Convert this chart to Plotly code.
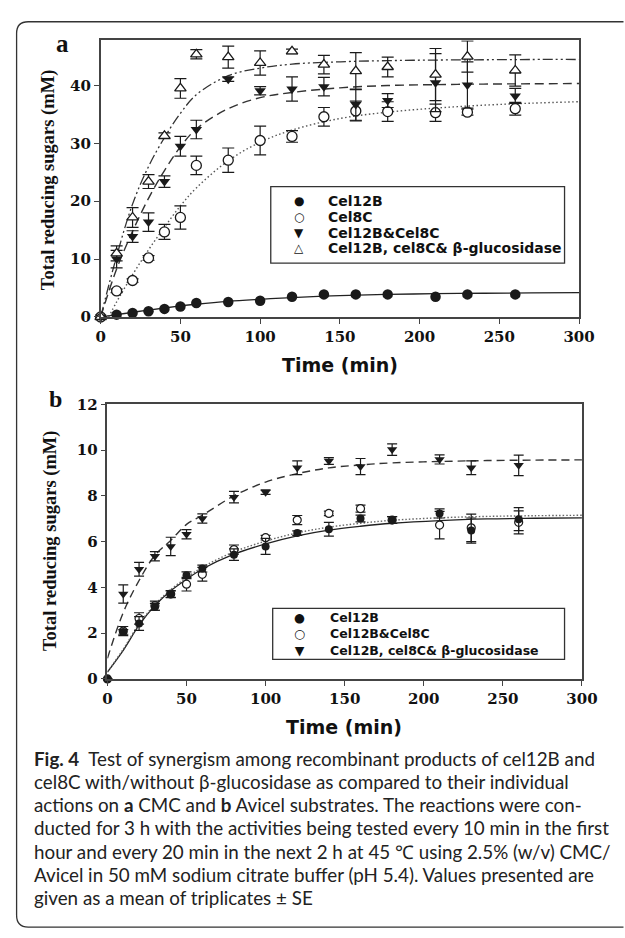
import plotly.graph_objects as go

W, H = 625, 938

# ---------------- Panel a (CMC) ----------------
time_a = [0, 10, 20, 30, 40, 50, 60, 80, 100, 120, 140, 160, 180, 210, 230, 260]
time_a_cel12b = [10, 20, 30, 40, 50, 60, 80, 100, 120, 140, 160, 180, 210, 230, 260]
cel12b_a = [0.4, 0.7, 1.0, 1.4, 1.8, 2.4, 2.6, 2.8, 3.5, 3.9, 3.9, 3.9, 3.5, 3.9, 3.9]
cel8c_a = [0, 4.5, 6.3, 10.2, 14.7, 17.2, 26.2, 27.1, 30.5, 31.2, 34.6, 35.6, 35.5, 35.3, 35.4, 36.0]
cel8c_err_a = [0, 0.3, 0.3, 0.4, 1.3, 2.0, 1.6, 2.1, 2.5, 1.0, 1.6, 1.7, 1.7, 1.5, 0.5, 1.1]
combo_a = [0, 10.0, 13.9, 16.4, 23.4, 29.5, 32.4, 41.1, 39.1, 39.4, 39.8, 36.7, 37.4, 40.5, 40.1, 38.2]
combo_err_a = [0, 1.5, 1.0, 1.6, 1.0, 1.7, 1.6, 0.4, 0.7, 2.1, 1.6, 2.7, 1.2, 5.0, 4.0, 1.3]
gluc_a = [0, 11.0, 17.2, 23.4, 31.3, 39.5, 45.4, 44.9, 43.9, 45.9, 43.6, 42.5, 43.2, 41.9, 45.0, 42.6]
gluc_err_a = [0, 1.3, 1.7, 1.2, 0.5, 1.7, 0.8, 1.9, 2.1, 0.4, 1.6, 3.2, 1.7, 4.5, 2.7, 2.7]

# fitted curves
fit_t_a = [0, 10, 20, 30, 40, 50, 60, 80, 100, 120, 150, 180, 210, 240, 270, 300]
fit_cel12b_a = [0, 0.4, 0.8, 1.2, 1.55, 1.9, 2.2, 2.7, 3.05, 3.35, 3.7, 3.9, 4.02, 4.1, 4.15, 4.2]
fit_combo_a = [0, 8.3, 14.8, 20.5, 25.3, 29.4, 32.5, 36.0, 37.9, 38.8, 39.6, 40.0, 40.15, 40.25, 40.3, 40.35]
fit_gluc_a = [0, 10.5, 19.5, 26.0, 31.0, 35.2, 38.4, 41.7, 43.0, 43.7, 44.1, 44.3, 44.4, 44.45, 44.5, 44.5]
fit_t_a_cel8c = [5, 10, 20, 30, 40, 50, 60, 80, 100, 120, 150, 180, 210, 240, 270, 300]
fit_cel8c_a = [0, 2.6, 7.3, 11.6, 15.5, 19.2, 22.3, 27.0, 30.2, 32.3, 34.3, 35.4, 36.1, 36.6, 36.95, 37.2]

# ---------------- Panel b (Avicel) ----------------
time_b = [0, 10, 20, 30, 40, 50, 60, 80, 100, 120, 140, 160, 180, 210, 230, 260]
time_b_gluc = [10, 20, 30, 40, 50, 60, 80, 100, 120, 140, 160, 180, 210, 230, 260]
cel12b_b = [0, 2.05, 2.42, 3.15, 3.7, 4.53, 4.82, 5.43, 5.79, 6.37, 6.54, 7.01, 6.94, 7.23, 6.48, 6.98]
cel12b_err_b = [0, 0.1, 0.3, 0.15, 0.15, 0.15, 0.15, 0.25, 0.35, 0.1, 0.3, 0.15, 0.15, 0.2, 0.55, 0.5]
combo_b = [0, 2.09, 2.64, 3.2, 3.71, 4.14, 4.57, 5.65, 6.17, 6.94, 7.23, 7.44, 6.94, 6.72, 6.6, 6.84]
combo_err_b = [0, 0.2, 0.25, 0.2, 0.15, 0.3, 0.3, 0.2, 0.1, 0.2, 0.1, 0.15, 0.15, 0.6, 0.6, 0.5]
gluc_b = [3.71, 4.79, 5.36, 5.79, 6.32, 7.01, 7.94, 8.16, 9.23, 9.52, 9.28, 10.02, 9.59, 9.23, 9.33]
gluc_err_b = [0.4, 0.3, 0.2, 0.4, 0.2, 0.2, 0.25, 0.1, 0.3, 0.15, 0.35, 0.25, 0.2, 0.3, 0.45]

fit_t_b = [0, 10, 20, 30, 40, 50, 60, 80, 100, 120, 140, 160, 180, 210, 240, 270, 300]
fit_cel12b_b = [0.3, 1.25, 2.35, 3.2, 3.85, 4.35, 4.8, 5.45, 5.9, 6.25, 6.5, 6.67, 6.8, 6.92, 6.99, 7.02, 7.04]
fit_combo_b = [0.3, 1.3, 2.4, 3.25, 3.9, 4.42, 4.88, 5.55, 6.02, 6.38, 6.63, 6.8, 6.93, 7.04, 7.1, 7.13, 7.15]
fit_gluc_b = [0.9, 2.9, 4.3, 5.4, 6.05, 6.75, 7.15, 8.0, 8.6, 8.97, 9.22, 9.35, 9.44, 9.5, 9.54, 9.56, 9.57]

x_ticks = [0, 50, 100, 150, 200, 250, 300]
y_ticks_a = [0, 10, 20, 30, 40]
y_ticks_b = [0, 2, 4, 6, 8, 10, 12]

legend_a = ["Cel12B", "Cel8C", "Cel12B&Cel8C", "Cel12B, cel8C& \u03b2-glucosidase"]
legend_b = ["Cel12B", "Cel12B&Cel8C", "Cel12B, cel8C& \u03b2-glucosidase"]

caption_lines = [
    "<b>Fig. 4</b>  Test of synergism among recombinant products of cel12B and",
    "cel8C with/without \u03b2-glucosidase as compared to their individual",
    "actions on <b>a</b> CMC and <b>b</b> Avicel substrates. The reactions were con-",
    "ducted for 3 h with the activities being tested every 10 min in the first",
    "hour and every 20 min in the next 2 h at 45 \u2103 using 2.5% (w/v) CMC/",
    "Avicel in 50 mM sodium citrate buffer (pH 5.4). Values presented are",
    "given as a mean of triplicates \u00b1 SE",
]

fig = go.Figure()

INK = "#1a1a1a"


def err(arr, w=5):
    return dict(type="data", array=arr, visible=True, color=INK, thickness=1.2, width=w)


def px_x(x):
    return x / W


def px_y(y):
    return 1 - y / H


# ---- panel a curves ----
fig.add_trace(go.Scatter(x=fit_t_a, y=fit_cel12b_a, mode="lines", line=dict(color="#222", width=1.3, shape="spline"),
                         xaxis="x", yaxis="y", showlegend=False, hoverinfo="skip"))
fig.add_trace(go.Scatter(x=fit_t_a_cel8c, y=fit_cel8c_a, mode="lines",
                         line=dict(color="#555", width=1.4, dash="1.5px,2.5px", shape="spline"),
                         xaxis="x", yaxis="y", showlegend=False, hoverinfo="skip"))
fig.add_trace(go.Scatter(x=fit_t_a, y=fit_combo_a, mode="lines",
                         line=dict(color="#333", width=1.4, dash="9px,5px", shape="spline"),
                         xaxis="x", yaxis="y", showlegend=False, hoverinfo="skip"))
fig.add_trace(go.Scatter(x=fit_t_a, y=fit_gluc_a, mode="lines",
                         line=dict(color="#333", width=1.3, dash="10px,3px,2px,3px,2px,3px", shape="spline"),
                         xaxis="x", yaxis="y", showlegend=False, hoverinfo="skip"))

# ---- panel a markers ----
fig.add_trace(go.Scatter(x=time_a_cel12b, y=cel12b_a, mode="markers", name=legend_a[0],
                         marker=dict(symbol="circle", size=10.5, color=INK, line=dict(width=0)),
                         xaxis="x", yaxis="y", showlegend=False, cliponaxis=False))
fig.add_trace(go.Scatter(x=time_a, y=cel8c_a, mode="markers", name=legend_a[1], error_y=err(cel8c_err_a, 6),
                         marker=dict(symbol="circle", size=10, color="white", line=dict(width=1.3, color=INK)),
                         xaxis="x", yaxis="y", showlegend=False, cliponaxis=False))
fig.add_trace(go.Scatter(x=time_a, y=combo_a, mode="markers", name=legend_a[2], error_y=err(combo_err_a, 6),
                         marker=dict(symbol="triangle-down", size=10, color=INK, line=dict(width=0)),
                         xaxis="x", yaxis="y", showlegend=False, cliponaxis=False))
fig.add_trace(go.Scatter(x=time_a, y=gluc_a, mode="markers", name=legend_a[3], error_y=err(gluc_err_a, 6),
                         marker=dict(symbol="triangle-up", size=10, color="white", line=dict(width=1.3, color=INK)),
                         xaxis="x", yaxis="y", showlegend=False, cliponaxis=False))

# ---- panel b curves ----
fig.add_trace(go.Scatter(x=fit_t_b, y=fit_cel12b_b, mode="lines", line=dict(color="#222", width=1.3, shape="spline"),
                         xaxis="x2", yaxis="y2", showlegend=False, hoverinfo="skip"))
fig.add_trace(go.Scatter(x=fit_t_b, y=fit_combo_b, mode="lines",
                         line=dict(color="#666", width=1.4, dash="1.5px,2px", shape="spline"),
                         xaxis="x2", yaxis="y2", showlegend=False, hoverinfo="skip"))
fig.add_trace(go.Scatter(x=fit_t_b, y=fit_gluc_b, mode="lines",
                         line=dict(color="#333", width=1.4, dash="8px,5px", shape="spline"),
                         xaxis="x2", yaxis="y2", showlegend=False, hoverinfo="skip"))

# ---- panel b markers ----
fig.add_trace(go.Scatter(x=time_b_gluc, y=gluc_b, mode="markers", name=legend_b[2], error_y=err(gluc_err_b, 5),
                         marker=dict(symbol="triangle-down", size=9, color=INK, line=dict(width=0)),
                         xaxis="x2", yaxis="y2", showlegend=False, cliponaxis=False))
fig.add_trace(go.Scatter(x=time_b, y=combo_b, mode="markers", name=legend_b[1], error_y=err(combo_err_b, 5),
                         marker=dict(symbol="circle", size=8, color="white", line=dict(width=1.2, color=INK)),
                         xaxis="x2", yaxis="y2", showlegend=False, cliponaxis=False))
fig.add_trace(go.Scatter(x=time_b, y=cel12b_b, mode="markers", name=legend_b[0], error_y=err(cel12b_err_b, 5),
                         marker=dict(symbol="circle", size=8, color=INK, line=dict(width=0)),
                         xaxis="x2", yaxis="y2", showlegend=False, cliponaxis=False))

TICKFONT = dict(family="DejaVu Serif", size=15, color="#111", weight="bold")
axis_common = dict(showline=True, mirror=True, linecolor="#444", linewidth=1.5, ticks="outside", ticklen=5,
                   tickwidth=1.3, tickcolor="#444", showgrid=False, zeroline=False, tickfont=TICKFONT)

fig.update_layout(
    width=W, height=H, margin=dict(l=0, r=0, t=0, b=0),
    paper_bgcolor="white", plot_bgcolor="white", showlegend=False,
    xaxis=dict(domain=[px_x(99), px_x(594)], range=[0, 300], tickvals=x_ticks, anchor="y", **axis_common),
    yaxis=dict(domain=[px_y(314), px_y(32)], range=[0, 47.8], tickvals=y_ticks_a, anchor="x", **axis_common),
    xaxis2=dict(domain=[px_x(106), px_x(597)], range=[0, 300], tickvals=x_ticks, anchor="y2", **axis_common),
    yaxis2=dict(domain=[px_y(683), px_y(403)], range=[0, 12], tickvals=y_ticks_b, anchor="x2", **axis_common),
)

ann = []
shapes = []

# outer rounded frame
def P(x, y):
    return f"{px_x(x):.5f},{px_y(y):.5f}"

frame_path = (f"M {P(640, 13)} L {P(24, 13)} Q {P(12, 13)} {P(12, 25)} L {P(12, 924)} "
              f"Q {P(12, 936)} {P(24, 936)} L {P(640, 936)}")
shapes.append(dict(type="path", xref="paper", yref="paper", path=frame_path,
                   line=dict(color="#333", width=1.3)))

# panel labels
ann.append(dict(text="<b>a</b>", x=px_x(60), y=px_y(35), font=dict(family="Liberation Serif", size=25, color="#111")))
ann.append(dict(text="<b>b</b>", x=px_x(52), y=px_y(398), font=dict(family="Liberation Serif", size=24, color="#111")))

# axis titles
YT = dict(family="Liberation Serif", size=18.5, color="#111")
XT = dict(family="DejaVu Sans", size=19, color="#111")
ann.append(dict(text="<b>Total reducing sugars (mM)</b>", x=px_x(45), y=px_y(174), textangle=-90, font=YT))
ann.append(dict(text="<b>Total reducing sugars (mM)</b>", x=px_x(47), y=px_y(542), textangle=-90, font=YT))
ann.append(dict(text="<b>Time (min)</b>", x=px_x(347), y=px_y(363), font=XT))
ann.append(dict(text="<b>Time (min)</b>", x=px_x(351), y=px_y(732), font=XT))

# legends (drawn as boxed text)
LF = dict(family="DejaVu Sans", size=14, color="#111")
GF = dict(family="DejaVu Sans", size=12, color="#111")
shapes.append(dict(type="rect", xref="paper", yref="paper", x0=px_x(275), x1=px_x(579), y0=px_y(259), y1=px_y(181),
                   line=dict(color="#333", width=1.3), fillcolor="white", layer="above"))
glyphs_a = ["\u25cf", "\u25cb", "\u25bc", "\u25b3"]
for i, (g, lab) in enumerate(zip(glyphs_a, legend_a)):
    yy = 196 + 16 * i
    ann.append(dict(text=g, x=px_x(304), y=px_y(yy), font=GF))
    ann.append(dict(text=f"<b>{lab}</b>", x=px_x(332), y=px_y(yy), xanchor="left", font=LF))

# panel b legend: compact block of lines inside one box
shapes.append(dict(type="rect", xref="paper", yref="paper", x0=px_x(277), x1=px_x(579), y0=px_y(663), y1=px_y(611),
                   line=dict(color="#333", width=1.3), fillcolor="white", layer="above"))
glyphs_b = ["\u25cf", "\u25cb", "\u25bc"]
LFB = dict(family="DejaVu Sans", size=12.5, color="#111")
ann.append(dict(text="<br>".join(glyphs_b), x=px_x(305), y=px_y(637), align="center",
                font=dict(family="DejaVu Sans", size=12.5, color="#111")))
ann.append(dict(text="<br>".join(f"<b>{lab}</b>" for lab in legend_b), x=px_x(334), y=px_y(637),
                xanchor="left", align="left", font=LFB))

# caption
CF = dict(family="Lato", size=18.8, color="#222")
for i, line in enumerate(caption_lines):
    ann.append(dict(text=line, x=px_x(28), y=px_y(764.5 + 23.5 * i), xanchor="left", font=CF))

for a in ann:
    a.setdefault("xref", "paper")
    a.setdefault("yref", "paper")
    a.setdefault("showarrow", False)
    a.setdefault("yanchor", "middle")
    a.setdefault("xanchor", "center")

fig.update_layout(annotations=ann, shapes=shapes)

fig.write_html("out.html", config={"displayModeBar": False},
               post_script="document.body.style.margin='0px';document.body.style.overflow='hidden';")
